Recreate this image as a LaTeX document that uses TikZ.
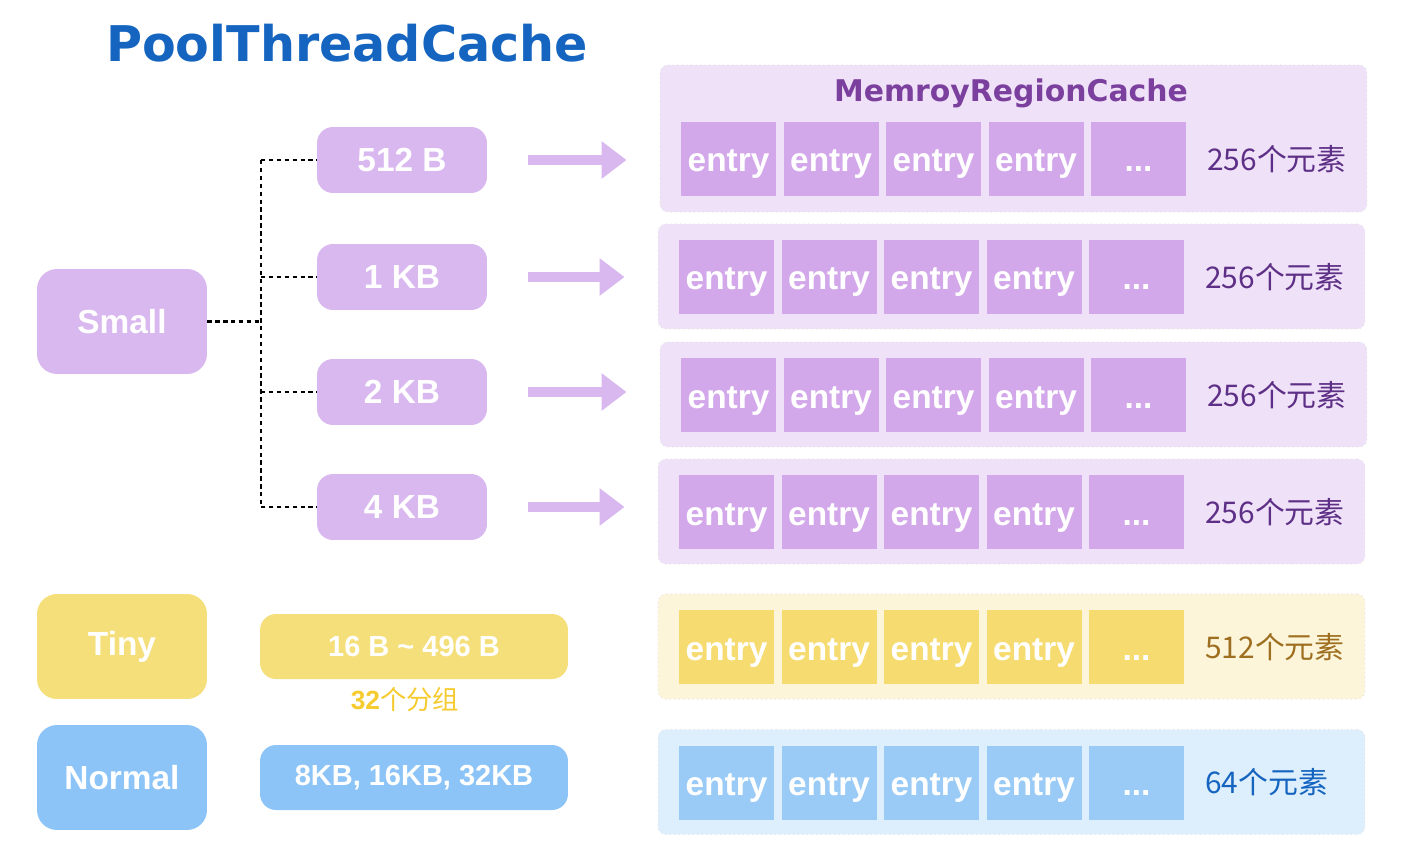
\documentclass[tikz,border=0pt]{standalone}
\usepackage{fontspec}
\setmainfont{Liberation Sans}
\newfontfamily\cjk{Noto Sans CJK SC}
\newfontfamily\heavy{DejaVu Sans}
\usetikzlibrary{arrows.meta, positioning, calc}
\definecolor{titleblue}{HTML}{1565C0}
\definecolor{lilac}{HTML}{D9B8F0}
\definecolor{lilacentry}{HTML}{D3A8EA}
\definecolor{lilacpanel}{HTML}{EFE2F8}
\definecolor{plumtext}{HTML}{5E2F86}
\definecolor{plumhead}{HTML}{7B3F9E}
\definecolor{sunny}{HTML}{F5DF7A}
\definecolor{sunnyentry}{HTML}{F6DC70}
\definecolor{sunnypanel}{HTML}{FCF5DA}
\definecolor{sunnytext}{HTML}{9E6F20}
\definecolor{sunnylabel}{HTML}{F5CB2F}
\definecolor{sky}{HTML}{8CC4F8}
\definecolor{skyentry}{HTML}{9ACBF7}
\definecolor{skypanel}{HTML}{DDEEFC}

\begin{document}
\begin{tikzpicture}[x=0.02cm, y=-0.02cm,
  block/.style={rounded corners=0.4cm, minimum width=3.4cm, minimum height=2.1cm, text=white, font=\fontsize{19}{19}\selectfont\bfseries},
  sizebox/.style={rounded corners=0.32cm, minimum width=3.4cm, minimum height=1.32cm, fill=lilac, text=white, font=\fontsize{19}{19}\selectfont\bfseries},
  rangebox/.style={rounded corners=0.32cm, minimum width=6.16cm, minimum height=1.3cm, text=white, font=\fontsize{16.5}{16.5}\selectfont\bfseries},
  panel/.style={draw=black!10, dotted, line width=0.6pt, rounded corners=0.16cm, minimum width=14.14cm, minimum height=2.1cm, inner sep=0pt},
  entrybox/.style={minimum width=1.9cm, minimum height=1.48cm, inner sep=0pt, text height=0.6cm, text depth=0.08cm, text=white, font=\fontsize{19}{19}\selectfont\bfseries},
  count/.style={anchor=west, inner sep=0pt, font=\fontsize{17}{17}\selectfont\cjk},
  tree/.style={black, line width=1.2pt, dash pattern=on 2.5pt off 2pt},
  bigarrow/.style={lilac, line width=0.2cm, -{Triangle[length=0.5cm, width=0.72cm]}, shorten <=0.82cm, shorten >=0.66cm}]

  \useasboundingbox (0,0) rectangle (1409,868);

  % Title
  \node[titleblue, font=\fontsize{28}{28}\selectfont\heavy\bfseries] (title) at (347, 43) {PoolThreadCache};

  % Size classes on the left
  \node[block, fill=lilac] (small) at (122, 321.5) {Small};
  \node[block, fill=sunny] (tiny) at (122, 646.5) {Tiny};
  \node[block, fill=sky] (normal) at (122, 777.5) {Normal};

  % Small: four sizes
  \node[sizebox] (s1) at (402, 160) {512 B};
  \node[sizebox] (s2) at (402, 277) {1 KB};
  \node[sizebox] (s3) at (402, 392) {2 KB};
  \node[sizebox] (s4) at (402, 507) {4 KB};

  % Dashed tree from Small
  \coordinate (fork) at (261, 321.5);
  \draw[tree] (small.east) -- (fork);
  \draw[tree] (fork |- s1.west) -- (fork |- s4.west);
  \foreach \s in {s1, s2, s3, s4}
    \draw[tree] (fork |- \s.west) -- (\s.west);

  % Tiny and Normal ranges
  \node[rangebox, fill=sunny] (tinyrange) at (414, 646.5) {16 B \textasciitilde{} 496 B};
  \node[sunnylabel, font=\fontsize{15}{15}\selectfont\bfseries] (tinygroups) at (405, 700) {32{\cjk\mdseries 个分组}};
  \node[rangebox, fill=sky] (normalrange) at (414, 777.5) {8KB, 16KB, 32KB};

  % MemroyRegionCache panels
  \node[panel, fill=lilacpanel, minimum height=2.94cm] (p1) at (1013.5, 138.5) {};
  \node[panel, fill=lilacpanel] (p2) at (1011.5, 276.5) {};
  \node[panel, fill=lilacpanel] (p3) at (1013.5, 394.5) {};
  \node[panel, fill=lilacpanel] (p4) at (1011.5, 511.5) {};
  \node[panel, fill=sunnypanel] (pt) at (1011.5, 646.5) {};
  \node[panel, fill=skypanel] (pn) at (1011.5, 782) {};
  \node[plumhead, font=\fontsize{17}{17}\selectfont\heavy\bfseries] (cachetitle) at (1011, 93) {MemroyRegionCache};

  % Entries in each panel
  \foreach \p/\x/\y/\fc/\tc/\n in {p1/728.5/159/lilacentry/plumtext/256, p2/726.5/277/lilacentry/plumtext/256,
      p3/728.5/395/lilacentry/plumtext/256, p4/726.5/512/lilacentry/plumtext/256,
      pt/726.5/647/sunnyentry/sunnytext/512, pn/726.5/782.5/skyentry/titleblue/64} {
    \foreach \k in {0,...,3}
      \node[entrybox, fill=\fc] (\p e\k) at (\x+102.5*\k, \y) {entry};
    \node[entrybox, fill=\fc] (\p dots) at (\x+410, \y) {...};
    \node[count, text=\tc] (\p n) at (\x+478.5, \y) {\n 个元素};
  }

  % Arrows from sizes to caches
  \foreach \s/\p in {s1/p1, s2/p2, s3/p3, s4/p4}
    \draw[bigarrow] (\s.east) -- (\s.east -| \p.west);
\end{tikzpicture}
\end{document}
